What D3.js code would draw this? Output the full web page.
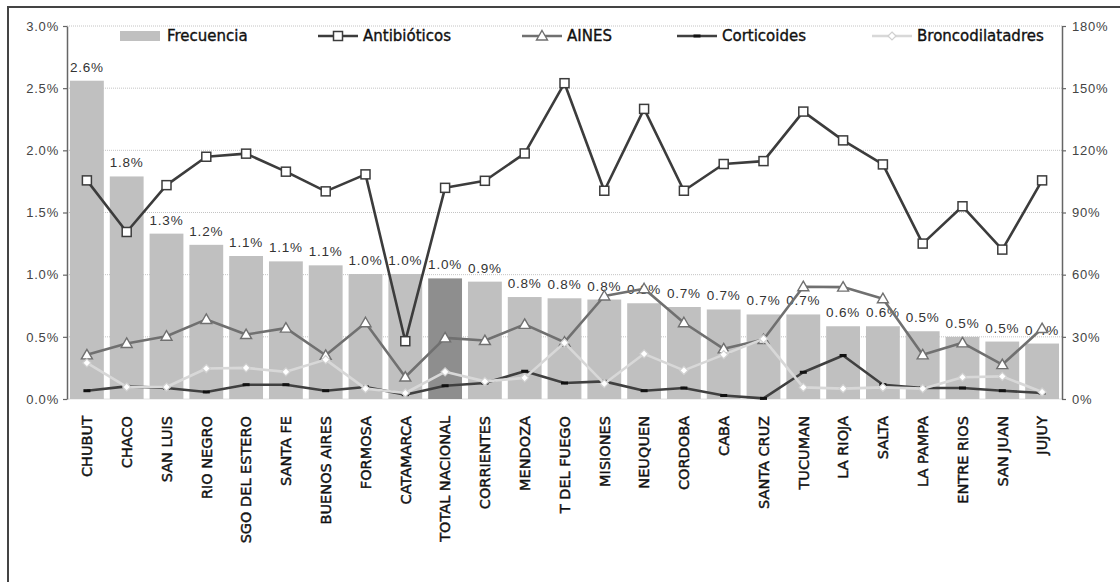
<!DOCTYPE html>
<html>
<head>
<meta charset="utf-8">
<script src="https://cdn.jsdelivr.net/npm/d3@7"></script>
<style>
  html, body { margin: 0; padding: 0; background: #fff; }
  svg { display: block; }
</style>
</head>
<body>
<svg id="chart" width="1120" height="582"></svg>
<script>
// Provinces, ordered by frequency (TOTAL NACIONAL highlighted)
const categories = ["CHUBUT","CHACO","SAN LUIS","RIO NEGRO","SGO DEL ESTERO","SANTA FE","BUENOS AIRES","FORMOSA","CATAMARCA","TOTAL NACIONAL","CORRIENTES","MENDOZA","T DEL FUEGO","MISIONES","NEUQUEN","CORDOBA","CABA","SANTA CRUZ","TUCUMAN","LA RIOJA","SALTA","LA PAMPA","ENTRE RIOS","SAN JUAN","JUJUY"];

// Frecuencia (% , left axis)
const frecuencia = [2.56,1.79,1.33,1.24,1.15,1.107,1.075,1.005,1.005,0.97,0.944,0.82,0.81,0.80,0.77,0.74,0.72,0.68,0.68,0.585,0.585,0.545,0.50,0.462,0.446];

// Drug groups (% , right axis)
const antibioticos = [105.5,80.6,103.2,116.9,118.4,109.7,100.2,108.4,27.9,101.9,105.3,118.5,152.4,100.5,140,100.5,113.4,114.8,138.7,124.8,113.2,75,93,72.1,105.5];
const aines = [21.3,26.8,30.3,38.4,31.1,34.2,21.1,36.8,10.6,29.5,28.2,36,27.4,49.7,53.2,36.8,24.2,28.7,54.2,54,48.4,21.3,27.1,16.6,34];
const corticoides = [4,6.1,5.3,3.4,6.9,6.9,4,5.8,2.1,6.4,7.7,13.4,7.7,8.5,4,5.3,1.7,0.3,12.9,21,6.9,5.3,5.3,4,2.9];
const broncodilatadores = [17.4,5.8,5.8,14.7,15,13.1,19,5,2.9,13.1,8.5,10.2,27.1,7.4,21.8,13.8,21.4,29,5.6,5,5.6,5,10.5,10.9,3.4];

// Axis ticks
const leftTicks = [0,0.5,1.0,1.5,2.0,2.5,3.0];
const rightTicks = [0,30,60,90,120,150,180];
const highlight = "TOTAL NACIONAL";

const svg = d3.select("#chart");
const plot = {left: 67, right: 1062, top: 26, bottom: 399};
const numFont = "'Liberation Sans', Arial, sans-serif";
const textFont = "'DejaVu Sans', Verdana, sans-serif";

// outer frame
svg.append("rect").attr("x", 8).attr("y", 7).attr("width", 1300).attr("height", 800)
  .attr("fill", "none").attr("stroke", "#444").attr("stroke-width", 2);

const x = d3.scaleBand().domain(categories).range([plot.left, plot.right])
  .paddingInner(0.15).paddingOuter(0.075);
const yL = d3.scaleLinear().domain([0, 3]).range([plot.bottom, plot.top]);
const yR = d3.scaleLinear().domain([0, 180]).range([plot.bottom, plot.top]);

// dotted gridlines
svg.append("g").selectAll("line").data(leftTicks.filter(d => d > 0)).join("line")
  .attr("x1", plot.left).attr("x2", plot.right)
  .attr("y1", d => yL(d)).attr("y2", d => yL(d))
  .attr("stroke", "#c4c4c4").attr("stroke-width", 1).attr("stroke-dasharray", "1,1");
svg.append("line").attr("x1", plot.left).attr("x2", plot.right)
  .attr("y1", yL(0)).attr("y2", yL(0)).attr("stroke", "#e2e2e2").attr("stroke-width", 1);

// bars
svg.append("g").selectAll("rect").data(categories).join("rect")
  .attr("x", d => x(d)).attr("width", x.bandwidth())
  .attr("y", (d, i) => yL(frecuencia[i]))
  .attr("height", (d, i) => yL(0) - yL(frecuencia[i]))
  .attr("fill", d => d === highlight ? "#8e8e8e" : "#c0c0c0");

// bar value labels
svg.append("g").selectAll("text").data(categories).join("text")
  .attr("x", d => x(d) + x.bandwidth() / 2)
  .attr("y", (d, i) => yL(frecuencia[i]) - 9)
  .attr("text-anchor", "middle")
  .attr("font-family", numFont).attr("font-size", 13.5).attr("letter-spacing", 0.8)
  .attr("fill", "#333")
  .text((d, i) => frecuencia[i].toFixed(1) + "%");

// axes
const axL = svg.append("g").attr("transform", `translate(${plot.left},0)`)
  .call(d3.axisLeft(yL).tickValues(leftTicks).tickFormat(d => d.toFixed(1) + "%")
    .tickSize(4).tickSizeOuter(0).tickPadding(4));
const axR = svg.append("g").attr("transform", `translate(${plot.right},0)`)
  .call(d3.axisRight(yR).tickValues(rightTicks).tickFormat(d => d + "%")
    .tickSize(4).tickSizeOuter(0).tickPadding(6));
[axL, axR].forEach(ax => {
  ax.select(".domain").attr("stroke", "#666").attr("stroke-width", 1.5);
  ax.selectAll(".tick line").attr("stroke", "#666").attr("stroke-width", 1.2);
  ax.selectAll(".tick text").attr("font-family", numFont).attr("font-size", 13)
    .attr("letter-spacing", 0.8).attr("fill", "#444");
});

// category labels, rotated
svg.append("g").selectAll("text").data(categories).join("text")
  .attr("transform", d => `translate(${x(d) + x.bandwidth() / 2},416) rotate(-90)`)
  .attr("text-anchor", "end").attr("dy", "0.36em")
  .attr("font-family", textFont).attr("font-size", 14.5)
  .attr("fill", "#111").attr("stroke", "#111").attr("stroke-width", 0.45)
  .text(d => d);

// line series
const cx = (d, i) => x(categories[i]) + x.bandwidth() / 2;
const series = [
  {name: "Antibióticos", values: antibioticos, stroke: "#3c3c3c", marker: "square"},
  {name: "AINES", values: aines, stroke: "#707070", marker: "triangle"},
  {name: "Corticoides", values: corticoides, stroke: "#404040", marker: "dash"},
  {name: "Broncodilatadres", values: broncodilatadores, stroke: "#d8d8d8", marker: "diamond"}
];

function drawMarker(g, type, stroke) {
  if (type === "square") {
    g.append("rect").attr("x", -4.5).attr("y", -4.5).attr("width", 9).attr("height", 9)
      .attr("fill", "#fff").attr("stroke", stroke).attr("stroke-width", 1.5);
  } else if (type === "triangle") {
    g.append("path").attr("d", "M0,-5.5L5.5,4L-5.5,4Z")
      .attr("fill", "#fff").attr("stroke", stroke).attr("stroke-width", 1.4);
  } else if (type === "dash") {
    g.append("rect").attr("x", -3.5).attr("y", -1.5).attr("width", 7).attr("height", 3)
      .attr("fill", "#111");
  } else if (type === "diamond") {
    g.append("path").attr("d", "M0,-4L4,0L0,4L-4,0Z")
      .attr("fill", "#fff").attr("stroke", "#d0d0d0").attr("stroke-width", 1.2);
  }
}

series.forEach(s => {
  const line = d3.line().x(cx).y(d => yR(d));
  const g = svg.append("g");
  g.append("path").datum(s.values).attr("d", line)
    .attr("fill", "none").attr("stroke", s.stroke).attr("stroke-width", 2.6)
    .attr("stroke-linejoin", "round");
  g.selectAll("g").data(s.values).join("g")
    .attr("transform", (d, i) => `translate(${cx(d, i)},${yR(d)})`)
    .each(function() { drawMarker(d3.select(this), s.marker, s.stroke); });
});

// legend
const legendY = 36;
const legendX = [120, 318, 522, 677, 872];
const lg = svg.append("g");
lg.append("rect").attr("x", legendX[0]).attr("y", legendY - 5).attr("width", 40).attr("height", 10)
  .attr("fill", "#c0c0c0");
const legendText = sel => sel.attr("font-family", textFont).attr("font-size", 15)
  .attr("fill", "#111").attr("stroke", "#111").attr("stroke-width", 0.35);
lg.append("text").attr("x", legendX[0] + 47).attr("y", legendY).attr("dy", "0.36em")
  .call(legendText).text("Frecuencia");
series.forEach((s, k) => {
  const lx = legendX[k + 1];
  const item = lg.append("g");
  item.append("line").attr("x1", lx).attr("x2", lx + 40).attr("y1", legendY).attr("y2", legendY)
    .attr("stroke", s.stroke).attr("stroke-width", 2.5);
  const m = item.append("g").attr("transform", `translate(${lx + 20},${legendY})`);
  drawMarker(m, s.marker, s.stroke);
  item.append("text").attr("x", lx + 45).attr("y", legendY).attr("dy", "0.36em")
    .call(legendText).text(s.name);
});
</script>
</body>
</html>
